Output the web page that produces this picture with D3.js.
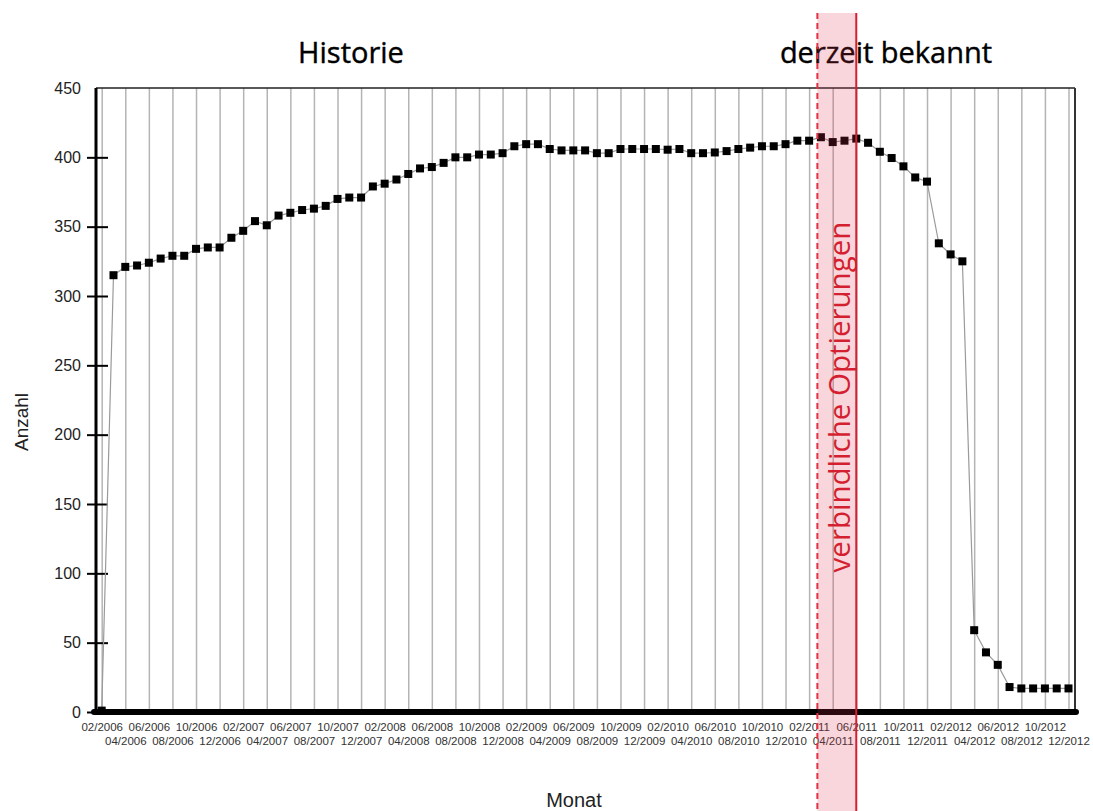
<!DOCTYPE html>
<html>
<head>
<meta charset="utf-8">
<script src="https://cdn.jsdelivr.net/npm/d3@7"></script>
<style>
  body { margin: 0; background: #fff; }
  svg { display: block; }
</style>
</head>
<body>
<div id="chart"></div>
<script>
"use strict";

// one entry per month, 02/2006 .. 12/2012
var months = [
  "02/2006","03/2006","04/2006","05/2006","06/2006","07/2006","08/2006","09/2006","10/2006","11/2006","12/2006",
  "01/2007","02/2007","03/2007","04/2007","05/2007","06/2007","07/2007","08/2007","09/2007","10/2007","11/2007","12/2007",
  "01/2008","02/2008","03/2008","04/2008","05/2008","06/2008","07/2008","08/2008","09/2008","10/2008","11/2008","12/2008",
  "01/2009","02/2009","03/2009","04/2009","05/2009","06/2009","07/2009","08/2009","09/2009","10/2009","11/2009","12/2009",
  "01/2010","02/2010","03/2010","04/2010","05/2010","06/2010","07/2010","08/2010","09/2010","10/2010","11/2010","12/2010",
  "01/2011","02/2011","03/2011","04/2011","05/2011","06/2011","07/2011","08/2011","09/2011","10/2011","11/2011","12/2011",
  "01/2012","02/2012","03/2012","04/2012","05/2012","06/2012","07/2012","08/2012","09/2012","10/2012","11/2012","12/2012"
];

var anzahl = [
  1, 315, 321, 322, 324, 327, 329, 329, 334, 335, 335,
  342, 347, 354, 351, 358, 360, 362, 363, 365, 370, 371, 371,
  379, 381, 384, 388, 392, 393, 396, 400, 400, 402, 402, 403,
  408, 409.5, 409.5, 406, 405, 405, 405, 403, 403, 406, 406, 406,
  406, 405.5, 406, 403, 403, 403.5, 404.5, 406, 407, 408, 408, 409.5,
  412, 412, 414.5, 411, 412, 413.5, 410.5, 404, 399.5, 393.5, 385.5, 382.5,
  338, 330, 325, 59, 43, 34, 18, 17, 17, 17, 17, 17
];

var yTicks = [0, 50, 100, 150, 200, 250, 300, 350, 400, 450];

// labelled months (every second one)
var tickMonths = ["02/2006","04/2006","06/2006","08/2006","10/2006","12/2006",
  "02/2007","04/2007","06/2007","08/2007","10/2007","12/2007",
  "02/2008","04/2008","06/2008","08/2008","10/2008","12/2008",
  "02/2009","04/2009","06/2009","08/2009","10/2009","12/2009",
  "02/2010","04/2010","06/2010","08/2010","10/2010","12/2010",
  "02/2011","04/2011","06/2011","08/2011","10/2011","12/2011",
  "02/2012","04/2012","06/2012","08/2012","10/2012","12/2012"];

// binding options period (month index, start a bit after 02/2011, end 06/2011)
var optStart = 60.7, optEnd = 64;

var width = 1093, height = 811;
var pLeft = 96, pRight = 1075, pTop = 88, pBottom = 712;

var svg = d3.select("#chart")
            .append("svg")
            .attr("width", width)
            .attr("height", height)

var x = d3.scaleLinear().domain([0, months.length - 1]).range([101.7, 1068.5]);
var y = d3.scaleLinear().domain([0, 450]).range([pBottom, pTop]);

// vertical grid + month labels
var xAxis = svg.append("g")
    .attr("transform", "translate(0," + pBottom + ")")
    .call(d3.axisBottom(x)
        .tickValues(tickMonths.map(function(m) { return months.indexOf(m) }))
        .tickSize(-(pBottom - pTop))
        .tickPadding(11)
        .tickFormat(function(i) { return months[i] }))

xAxis.select(".domain").remove()
xAxis.selectAll(".tick line")
    .attr("stroke", "#b4b4b4")
    .attr("stroke-width", 1.5)
xAxis.selectAll(".tick text")
    .attr("font-family", "Liberation Sans, Arial, sans-serif")
    .attr("font-size", 11.5)
    .attr("fill", "#333")
    .attr("dy", function(d, i) { return i % 2 ? "1.95em" : "0.71em" })

// frame
svg.append("line")
    .attr("x1", pLeft).attr("x2", pRight)
    .attr("y1", pTop).attr("y2", pTop)
    .attr("stroke", "#222").attr("stroke-width", 1.5)
svg.append("line")
    .attr("x1", pRight).attr("x2", pRight)
    .attr("y1", pTop).attr("y2", pBottom)
    .attr("stroke", "#333").attr("stroke-width", 2)
svg.append("line")
    .attr("x1", pLeft).attr("x2", pLeft)
    .attr("y1", pTop).attr("y2", pBottom)
    .attr("stroke", "#000").attr("stroke-width", 3)

// y axis
var yAxis = svg.append("g")
    .attr("transform", "translate(" + pLeft + ",0)")
    .call(d3.axisLeft(y).tickValues(yTicks).tickSize(9).tickPadding(6))

yAxis.select(".domain").remove()
yAxis.selectAll(".tick line")
    .attr("stroke", "#000")
    .attr("stroke-width", 2)
    .attr("x2", function(d) { return d == 450 ? 0 : -9 })
yAxis.selectAll(".tick")
    .filter(function(d) { return d != 450 })
    .append("line")
    .attr("x1", 0).attr("x2", 12)
    .attr("stroke", "#000").attr("stroke-width", 2)
yAxis.selectAll(".tick text")
    .attr("font-family", "Liberation Sans, Arial, sans-serif")
    .attr("font-size", 16)
    .attr("fill", "#222")

// data line
svg.append("path")
    .datum(anzahl)
    .attr("fill", "none")
    .attr("stroke", "#9a9a9a")
    .attr("stroke-width", 1.2)
    .attr("d", d3.line()
        .x(function(d, i) { return x(i) })
        .y(function(d) { return y(d) }))

// bottom axis line
svg.append("line")
    .attr("x1", pLeft - 2).attr("x2", pRight + 1)
    .attr("y1", pBottom).attr("y2", pBottom)
    .attr("stroke", "#000").attr("stroke-width", 6)
    .attr("stroke-linecap", "round")

svg.selectAll(".pt")
    .data(anzahl)
    .enter()
    .append("rect")
    .attr("class", "pt")
    .attr("x", function(d, i) { return x(i) - 4 })
    .attr("y", function(d) { return y(d) - 4 })
    .attr("width", 8)
    .attr("height", 8)
    .attr("fill", "#000")

// titles
svg.append("text")
    .attr("x", 351).attr("y", 63)
    .attr("text-anchor", "middle")
    .attr("font-family", "Open Sans, DejaVu Sans, sans-serif")
    .attr("font-size", 29)
    .attr("fill", "#000")
    .attr("stroke", "#000").attr("stroke-width", 0.4)
    .text("Historie")
svg.append("text")
    .attr("x", 886).attr("y", 63)
    .attr("text-anchor", "middle")
    .attr("font-family", "Open Sans, DejaVu Sans, sans-serif")
    .attr("font-size", 29)
    .attr("fill", "#000")
    .attr("stroke", "#000").attr("stroke-width", 0.4)
    .text("derzeit bekannt")

// band of binding options
svg.append("rect")
    .attr("x", x(optStart))
    .attr("y", 13)
    .attr("width", x(optEnd) - x(optStart))
    .attr("height", height - 13)
    .attr("fill", "#e0304a")
    .attr("fill-opacity", 0.2)
svg.append("line")
    .attr("x1", x(optStart)).attr("x2", x(optStart))
    .attr("y1", 13).attr("y2", height)
    .attr("stroke", "#e23344").attr("stroke-width", 2)
    .attr("stroke-dasharray", "6,4")
svg.append("line")
    .attr("x1", x(optEnd)).attr("x2", x(optEnd))
    .attr("y1", 13).attr("y2", height)
    .attr("stroke", "#d41f30").attr("stroke-width", 2)
svg.append("text")
    .attr("transform", "translate(850," + 397 + ") rotate(-90)")
    .attr("text-anchor", "middle")
    .attr("font-family", "Open Sans, DejaVu Sans, sans-serif")
    .attr("font-size", 29.5)
    .attr("fill", "#d41f30")
    .text("verbindliche Optierungen")

// axis titles
svg.append("text")
    .attr("transform", "translate(28,422) rotate(-90)")
    .attr("text-anchor", "middle")
    .attr("font-family", "Liberation Sans, Arial, sans-serif")
    .attr("font-size", 19)
    .attr("fill", "#222")
    .text("Anzahl")
svg.append("text")
    .attr("x", 574).attr("y", 807)
    .attr("text-anchor", "middle")
    .attr("font-family", "Liberation Sans, Arial, sans-serif")
    .attr("font-size", 20)
    .attr("fill", "#222")
    .text("Monat")
</script>
</body>
</html>
